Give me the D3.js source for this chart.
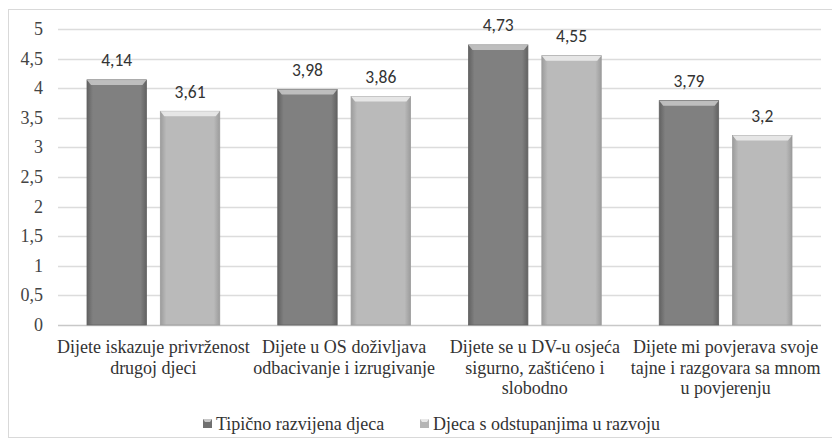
<!DOCTYPE html>
<html>
<head>
<meta charset="utf-8">
<script src="https://cdn.jsdelivr.net/npm/d3@7"></script>
<style>
  body { margin: 0; background: #fff; }
</style>
</head>
<body>
<script>
const categories = [
  ["Dijete iskazuje privrženost", "drugoj djeci"],
  ["Dijete u OS doživljava", "odbacivanje i izrugivanje"],
  ["Dijete se u DV-u osjeća", "sigurno, zaštićeno i", "slobodno"],
  ["Dijete mi povjerava svoje", "tajne i razgovara sa mnom", "u povjerenju"]
];
const seriesNames = ["Tipično razvijena djeca", "Djeca s odstupanjima u razvoju"];
const typical = [4.14, 3.98, 4.73, 3.79];
const deviating = [3.61, 3.86, 4.55, 3.2];
const yTicks = [0, 0.5, 1, 1.5, 2, 2.5, 3, 3.5, 4, 4.5, 5];

const serif = "Liberation Serif";
const sans = "Carlito";

const W = 832, H = 445;
const margin = { top: 29, right: 11, bottom: 120, left: 58 };
const width = W - margin.left - margin.right,
  height = H - margin.top - margin.bottom;

const svg = d3.select("body").append("svg")
  .attr("width", W).attr("height", H);

// bar shading
const defs = svg.append("defs");
const barColors = [
  { id: "dark", edge: "#626262", mid: "#808080", top: "#c4c4c4" },
  { id: "light", edge: "#9c9c9c", mid: "#bababa", top: "#ebebeb" }
];
barColors.forEach((c) => {
  const lg = defs.append("linearGradient").attr("id", "g-" + c.id)
    .attr("x1", 0).attr("x2", 1).attr("y1", 0).attr("y2", 0);
  lg.append("stop").attr("offset", "0%").attr("stop-color", c.edge);
  lg.append("stop").attr("offset", "10%").attr("stop-color", c.mid);
  lg.append("stop").attr("offset", "90%").attr("stop-color", c.mid);
  lg.append("stop").attr("offset", "100%").attr("stop-color", c.edge);
});

// outer frame
svg.append("rect")
  .attr("x", 8.5).attr("y", 9.5).attr("width", W + 10).attr("height", 428)
  .attr("fill", "#fff").attr("stroke", "#d9d9d9");

const g = svg.append("g")
  .attr("transform", `translate(${margin.left},${margin.top})`);

const x0 = d3.scaleBand().domain(d3.range(categories.length)).range([0, width]);
const x1 = d3.scaleBand().domain([0, 1])
  .range([29, x0.bandwidth() - 29]).paddingInner(0.19);
const y = d3.scaleLinear().domain([0, 5]).range([height, 0]);

// grid
g.append("g").selectAll("line").data(yTicks).join("line")
  .attr("x1", 0).attr("x2", width)
  .attr("y1", (d) => Math.round(y(d)) + 0.5).attr("y2", (d) => Math.round(y(d)) + 0.5)
  .attr("stroke", (d) => (d === 0 ? "#c8c8c8" : "#dcdcdc"))
  .attr("stroke-width", 1.5);

// y labels
g.append("g").selectAll("text").data(yTicks).join("text")
  .attr("font-family", serif)
  .attr("x", -15).attr("y", (d) => y(d)).attr("dy", "0.33em")
  .attr("text-anchor", "end")
  .attr("font-size", 18).attr("fill", "#444")
  .text((d) => String(d).replace(".", ","));

const series = [typical, deviating];
const groups = g.append("g").selectAll("g").data(categories).join("g")
  .attr("transform", (d, i) => `translate(${x0(i)},0)`);

series.forEach((vals, s) => {
  const c = barColors[s];
  groups.each(function (d, i) {
    const gg = d3.select(this);
    const bx = x1(s), bw = x1.bandwidth(), by = y(vals[i]), bh = y(0) - y(vals[i]);
    gg.append("rect")
      .attr("x", bx).attr("y", by).attr("width", bw).attr("height", bh)
      .attr("fill", `url(#g-${c.id})`).attr("stroke", c.edge).attr("stroke-width", 0.8);
    // bevel top
    gg.append("path")
      .attr("d", `M${bx},${by} L${bx + bw},${by} L${bx + bw - 4},${by + 5} L${bx + 4},${by + 5} Z`)
      .attr("fill", c.top).attr("opacity", 0.9);
    gg.append("text")
      .attr("font-family", sans)
      .attr("x", bx + bw / 2).attr("y", by - 13.5)
      .attr("text-anchor", "middle")
      .attr("font-size", 17.5).attr("fill", "#333")
      .text(String(vals[i]).replace(".", ","));
  });
});

// category labels
groups.append("text")
  .attr("font-family", serif)
  .attr("x", x0.bandwidth() / 2).attr("y", height + 28)
  .attr("text-anchor", "middle")
  .attr("font-size", 18).attr("fill", "#333")
  .selectAll("tspan").data((d) => d).join("tspan")
  .attr("x", x0.bandwidth() / 2)
  .attr("dy", (d, i) => (i === 0 ? 0 : 20.5))
  .text((d) => d);

// legend
const legendX = [203, 420];
const legend = svg.append("g").selectAll("g").data(seriesNames).join("g")
  .attr("transform", (d, i) => `translate(${legendX[i]},424)`);
legend.append("rect")
  .attr("x", 0).attr("y", -5).attr("width", 9).attr("height", 9)
  .attr("fill", (d, i) => (i === 0 ? "#707070" : "#b5b5b5"));
legend.append("path")
  .attr("d", "M0,-5 L9,-5 L7,-2 L2,-2 Z")
  .attr("fill", (d, i) => (i === 0 ? "#c8c8c8" : "#e8e8e8"));
legend.append("text")
  .attr("font-family", serif)
  .attr("x", 13).attr("y", 0).attr("dy", "0.33em")
  .attr("font-size", 18).attr("fill", "#333")
  .text((d) => d);
</script>
</body>
</html>
